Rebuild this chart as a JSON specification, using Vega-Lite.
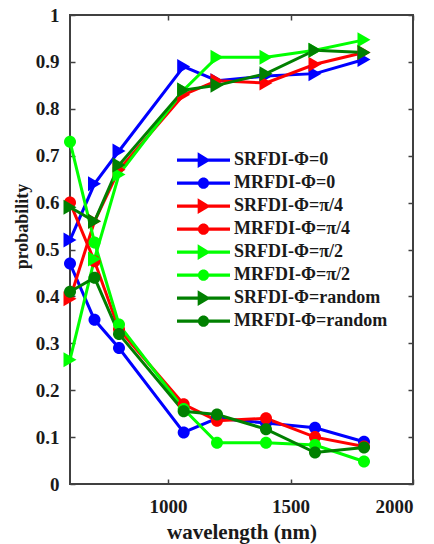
{
  "$schema": "https://vega.github.io/schema/vega-lite/v6.json",
  "width": 343,
  "height": 469,
  "autosize": "none",
  "padding": {"left": 70, "top": 15, "right": 21, "bottom": 60},
  "background": "white",
  "config": {
    "view": {"stroke": "#404040", "strokeWidth": 2},
    "font": "Liberation Serif",
    "axis": {
      "grid": false,
      "domain": false,
      "tickColor": "#404040",
      "tickSize": -5,
      "tickWidth": 1.5,
      "labelFont": "Liberation Serif",
      "labelFontWeight": "bold",
      "labelColor": "#1a1a1a",
      "titleFont": "Liberation Serif",
      "titleFontWeight": "bold",
      "titleColor": "#1a1a1a"
    },
    "legend": {"labelFont": "Liberation Serif", "labelFontWeight": "bold"}
  },
  "datasets": {
    "d": [
      {"w": 600, "p": 0.52, "s": "SRFDI-Φ=0"},
      {"w": 700, "p": 0.64, "s": "SRFDI-Φ=0"},
      {"w": 800, "p": 0.71, "s": "SRFDI-Φ=0"},
      {"w": 1064, "p": 0.89, "s": "SRFDI-Φ=0"},
      {"w": 1200, "p": 0.86, "s": "SRFDI-Φ=0"},
      {"w": 1400, "p": 0.87, "s": "SRFDI-Φ=0"},
      {"w": 1600, "p": 0.875, "s": "SRFDI-Φ=0"},
      {"w": 1800, "p": 0.905, "s": "SRFDI-Φ=0"},
      {"w": 600, "p": 0.47, "s": "MRFDI-Φ=0"},
      {"w": 700, "p": 0.35, "s": "MRFDI-Φ=0"},
      {"w": 800, "p": 0.29, "s": "MRFDI-Φ=0"},
      {"w": 1064, "p": 0.11, "s": "MRFDI-Φ=0"},
      {"w": 1200, "p": 0.14, "s": "MRFDI-Φ=0"},
      {"w": 1400, "p": 0.13, "s": "MRFDI-Φ=0"},
      {"w": 1600, "p": 0.12, "s": "MRFDI-Φ=0"},
      {"w": 1800, "p": 0.09, "s": "MRFDI-Φ=0"},
      {"w": 600, "p": 0.395, "s": "SRFDI-Φ=π/4"},
      {"w": 700, "p": 0.56, "s": "SRFDI-Φ=π/4"},
      {"w": 800, "p": 0.67, "s": "SRFDI-Φ=π/4"},
      {"w": 1064, "p": 0.83, "s": "SRFDI-Φ=π/4"},
      {"w": 1200, "p": 0.86, "s": "SRFDI-Φ=π/4"},
      {"w": 1400, "p": 0.855, "s": "SRFDI-Φ=π/4"},
      {"w": 1600, "p": 0.895, "s": "SRFDI-Φ=π/4"},
      {"w": 1800, "p": 0.92, "s": "SRFDI-Φ=π/4"},
      {"w": 600, "p": 0.60, "s": "MRFDI-Φ=π/4"},
      {"w": 700, "p": 0.475, "s": "MRFDI-Φ=π/4"},
      {"w": 800, "p": 0.33, "s": "MRFDI-Φ=π/4"},
      {"w": 1064, "p": 0.17, "s": "MRFDI-Φ=π/4"},
      {"w": 1200, "p": 0.135, "s": "MRFDI-Φ=π/4"},
      {"w": 1400, "p": 0.14, "s": "MRFDI-Φ=π/4"},
      {"w": 1600, "p": 0.10, "s": "MRFDI-Φ=π/4"},
      {"w": 1800, "p": 0.08, "s": "MRFDI-Φ=π/4"},
      {"w": 600, "p": 0.265, "s": "SRFDI-Φ=π/2"},
      {"w": 700, "p": 0.48, "s": "SRFDI-Φ=π/2"},
      {"w": 800, "p": 0.66, "s": "SRFDI-Φ=π/2"},
      {"w": 1064, "p": 0.84, "s": "SRFDI-Φ=π/2"},
      {"w": 1200, "p": 0.91, "s": "SRFDI-Φ=π/2"},
      {"w": 1400, "p": 0.91, "s": "SRFDI-Φ=π/2"},
      {"w": 1600, "p": 0.925, "s": "SRFDI-Φ=π/2"},
      {"w": 1800, "p": 0.947, "s": "SRFDI-Φ=π/2"},
      {"w": 600, "p": 0.73, "s": "MRFDI-Φ=π/2"},
      {"w": 700, "p": 0.515, "s": "MRFDI-Φ=π/2"},
      {"w": 800, "p": 0.34, "s": "MRFDI-Φ=π/2"},
      {"w": 1064, "p": 0.16, "s": "MRFDI-Φ=π/2"},
      {"w": 1200, "p": 0.088, "s": "MRFDI-Φ=π/2"},
      {"w": 1400, "p": 0.088, "s": "MRFDI-Φ=π/2"},
      {"w": 1600, "p": 0.083, "s": "MRFDI-Φ=π/2"},
      {"w": 1800, "p": 0.048, "s": "MRFDI-Φ=π/2"},
      {"w": 600, "p": 0.59, "s": "SRFDI-Φ=random"},
      {"w": 700, "p": 0.56, "s": "SRFDI-Φ=random"},
      {"w": 800, "p": 0.68, "s": "SRFDI-Φ=random"},
      {"w": 1064, "p": 0.84, "s": "SRFDI-Φ=random"},
      {"w": 1200, "p": 0.85, "s": "SRFDI-Φ=random"},
      {"w": 1400, "p": 0.875, "s": "SRFDI-Φ=random"},
      {"w": 1600, "p": 0.925, "s": "SRFDI-Φ=random"},
      {"w": 1800, "p": 0.92, "s": "SRFDI-Φ=random"},
      {"w": 600, "p": 0.41, "s": "MRFDI-Φ=random"},
      {"w": 700, "p": 0.44, "s": "MRFDI-Φ=random"},
      {"w": 800, "p": 0.32, "s": "MRFDI-Φ=random"},
      {"w": 1064, "p": 0.155, "s": "MRFDI-Φ=random"},
      {"w": 1200, "p": 0.148, "s": "MRFDI-Φ=random"},
      {"w": 1400, "p": 0.117, "s": "MRFDI-Φ=random"},
      {"w": 1600, "p": 0.067, "s": "MRFDI-Φ=random"},
      {"w": 1800, "p": 0.078, "s": "MRFDI-Φ=random"}
    ]
  },
  "layer": [
    {
      "data": {"name": "d"},
      "mark": {"type": "line", "strokeWidth": 3},
      "encoding": {
        "x": {
          "field": "w", "type": "quantitative",
          "scale": {"domain": [600, 2000]},
          "axis": {
            "orient": "bottom",
            "values": [1000, 1500, 2000],
            "format": "d",
            "title": "wavelength (nm)",
            "labelFont": "Liberation Serif",
            "labelFontWeight": "bold",
            "labelFontSize": 19,
            "labelPadding": 18,
            "titleFontSize": 21,
            "titlePadding": 5
          }
        },
        "y": {
          "field": "p", "type": "quantitative",
          "scale": {"domain": [0, 1]},
          "axis": {
            "orient": "left",
            "values": [0, 0.1, 0.2, 0.3, 0.4, 0.5, 0.6, 0.7, 0.8, 0.9, 1],
            "format": ".1~f",
            "title": "probability",
            "labelFont": "Liberation Serif",
            "labelFontWeight": "bold",
            "labelFontSize": 19,
            "labelPadding": 16,
            "titleFontSize": 18,
            "titleX": -39,
            "titleY": 211
          }
        },
        "color": {
          "field": "s", "type": "nominal",
          "scale": {
            "domain": ["SRFDI-Φ=0", "MRFDI-Φ=0", "SRFDI-Φ=π/4", "MRFDI-Φ=π/4", "SRFDI-Φ=π/2", "MRFDI-Φ=π/2", "SRFDI-Φ=random", "MRFDI-Φ=random"],
            "range": ["#0000ff", "#0000ff", "#ff0000", "#ff0000", "#00ff00", "#00ff00", "#008000", "#008000"]
          },
          "legend": null
        }
      }
    },
    {
      "data": {"name": "d"},
      "mark": {"type": "point", "filled": true, "opacity": 1, "size": 400, "strokeWidth": 0},
      "encoding": {
        "x": {"field": "w", "type": "quantitative", "scale": {"domain": [600, 2000]}, "axis": null},
        "y": {"field": "p", "type": "quantitative", "scale": {"domain": [0, 1]}, "axis": null},
        "color": {
          "field": "s", "type": "nominal",
          "scale": {
            "domain": ["SRFDI-Φ=0", "MRFDI-Φ=0", "SRFDI-Φ=π/4", "MRFDI-Φ=π/4", "SRFDI-Φ=π/2", "MRFDI-Φ=π/2", "SRFDI-Φ=random", "MRFDI-Φ=random"],
            "range": ["#0000ff", "#0000ff", "#ff0000", "#ff0000", "#00ff00", "#00ff00", "#008000", "#008000"]
          },
          "legend": null
        },
        "shape": {
          "field": "s", "type": "nominal",
          "scale": {
            "domain": ["SRFDI-Φ=0", "MRFDI-Φ=0", "SRFDI-Φ=π/4", "MRFDI-Φ=π/4", "SRFDI-Φ=π/2", "MRFDI-Φ=π/2", "SRFDI-Φ=random", "MRFDI-Φ=random"],
            "range": [
              "M-0.65,-0.75L0.65,0L-0.65,0.75Z",
              "M0.6,0A0.6,0.6,0,1,1,-0.6,0A0.6,0.6,0,1,1,0.6,0Z",
              "M-0.65,-0.75L0.65,0L-0.65,0.75Z",
              "M0.6,0A0.6,0.6,0,1,1,-0.6,0A0.6,0.6,0,1,1,0.6,0Z",
              "M-0.65,-0.75L0.65,0L-0.65,0.75Z",
              "M0.6,0A0.6,0.6,0,1,1,-0.6,0A0.6,0.6,0,1,1,0.6,0Z",
              "M-0.65,-0.75L0.65,0L-0.65,0.75Z",
              "M0.6,0A0.6,0.6,0,1,1,-0.6,0A0.6,0.6,0,1,1,0.6,0Z"
            ]
          },
          "legend": null
        }
      }
    },
    {
      "data": {"values": []},
      "mark": {"type": "point", "filled": true, "opacity": 1},
      "encoding": {
        "x": {
          "field": "w", "type": "quantitative",
          "scale": {"domain": [600, 2000]},
          "axis": {"orient": "top", "labels": false, "title": null, "values": [1000, 1500, 2000]}
        },
        "y": {
          "field": "p", "type": "quantitative",
          "scale": {"domain": [0, 1]},
          "axis": {"orient": "right", "labels": false, "title": null, "values": [0, 0.1, 0.2, 0.3, 0.4, 0.5, 0.6, 0.7, 0.8, 0.9, 1]}
        },
        "color": {
          "field": "s", "type": "nominal",
          "scale": {
            "domain": ["SRFDI-Φ=0", "MRFDI-Φ=0", "SRFDI-Φ=π/4", "MRFDI-Φ=π/4", "SRFDI-Φ=π/2", "MRFDI-Φ=π/2", "SRFDI-Φ=random", "MRFDI-Φ=random"],
            "range": ["#0000ff", "#0000ff", "#ff0000", "#ff0000", "#00ff00", "#00ff00", "#008000", "#008000"]
          },
          "legend": {
            "orient": "none", "legendX": 107, "legendY": 134, "title": null,
            "clipHeight": 22.3, "rowPadding": 0, "padding": 0,
            "symbolSize": 2809, "symbolStrokeWidth": 0, "symbolOpacity": 1,
            "labelFont": "Liberation Serif", "labelFontWeight": "bold", "labelFontSize": 18,
            "labelColor": "#1a1a1a", "labelOffset": 4, "labelLimit": 300
          }
        },
        "shape": {
          "field": "s", "type": "nominal",
          "scale": {
            "domain": ["SRFDI-Φ=0", "MRFDI-Φ=0", "SRFDI-Φ=π/4", "MRFDI-Φ=π/4", "SRFDI-Φ=π/2", "MRFDI-Φ=π/2", "SRFDI-Φ=random", "MRFDI-Φ=random"],
            "range": [
              "M-1,-0.06L1,-0.06L1,0.06L-1,0.06Z M-0.22,-0.3L0.27,0L-0.22,0.3Z",
              "M-1,-0.06L1,-0.06L1,0.06L-1,0.06Z M0.21,0A0.21,0.21,0,1,1,-0.21,0A0.21,0.21,0,1,1,0.21,0Z",
              "M-1,-0.06L1,-0.06L1,0.06L-1,0.06Z M-0.22,-0.3L0.27,0L-0.22,0.3Z",
              "M-1,-0.06L1,-0.06L1,0.06L-1,0.06Z M0.21,0A0.21,0.21,0,1,1,-0.21,0A0.21,0.21,0,1,1,0.21,0Z",
              "M-1,-0.06L1,-0.06L1,0.06L-1,0.06Z M-0.22,-0.3L0.27,0L-0.22,0.3Z",
              "M-1,-0.06L1,-0.06L1,0.06L-1,0.06Z M0.21,0A0.21,0.21,0,1,1,-0.21,0A0.21,0.21,0,1,1,0.21,0Z",
              "M-1,-0.06L1,-0.06L1,0.06L-1,0.06Z M-0.22,-0.3L0.27,0L-0.22,0.3Z",
              "M-1,-0.06L1,-0.06L1,0.06L-1,0.06Z M0.21,0A0.21,0.21,0,1,1,-0.21,0A0.21,0.21,0,1,1,0.21,0Z"
            ]
          },
          "legend": {
            "orient": "none", "legendX": 107, "legendY": 134, "title": null,
            "clipHeight": 22.3, "rowPadding": 0, "padding": 0,
            "symbolSize": 2809, "symbolStrokeWidth": 0, "symbolOpacity": 1,
            "labelFont": "Liberation Serif", "labelFontWeight": "bold", "labelFontSize": 18,
            "labelColor": "#1a1a1a", "labelOffset": 4, "labelLimit": 300
          }
        }
      }
    }
  ],
  "resolve": {
    "scale": {"color": "independent", "shape": "independent"},
    "axis": {"x": "independent", "y": "independent"}
  }
}
